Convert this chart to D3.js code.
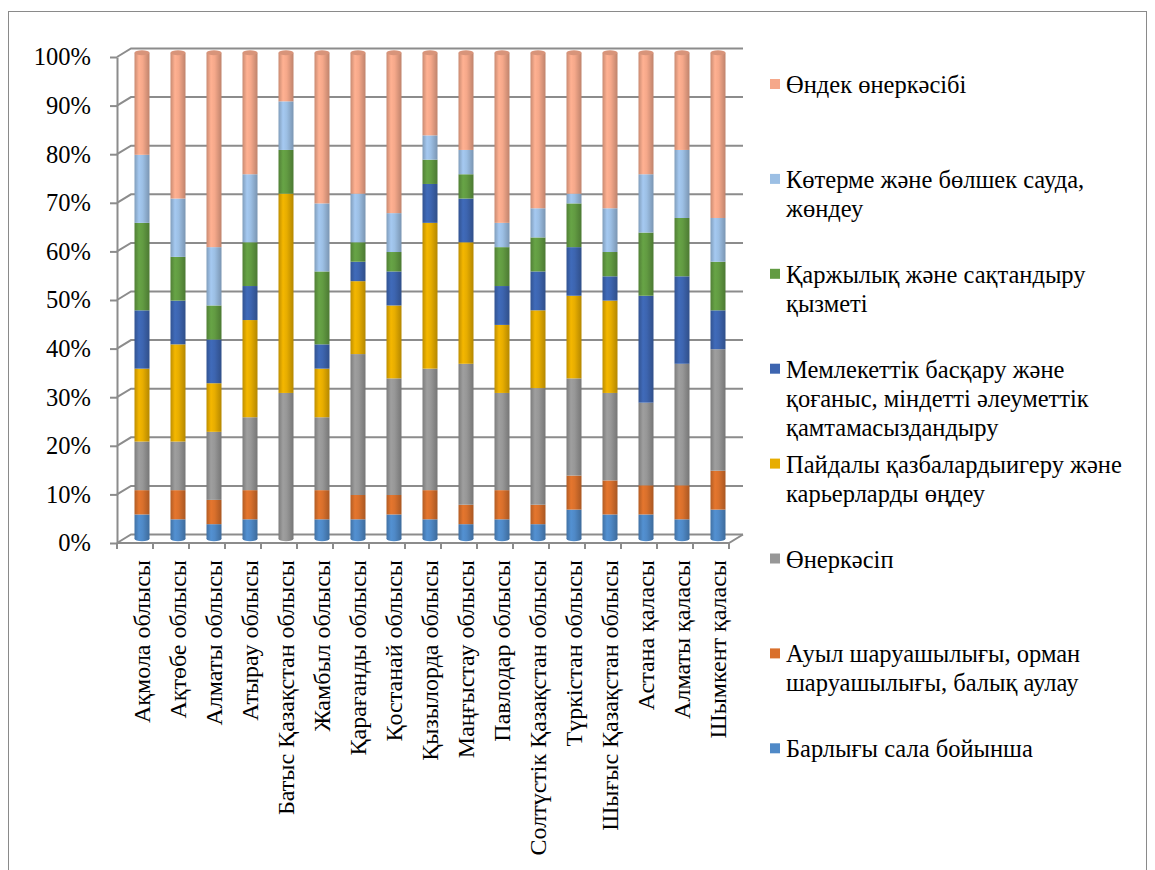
<!DOCTYPE html>
<html>
<head>
<meta charset="utf-8">
<title>Салалар бойынша үлес</title>
<script src="https://cdnjs.cloudflare.com/ajax/libs/d3/7.8.5/d3.min.js"></script>
<style>
  body { margin: 0; background: #fff; }
  svg text { font-family: "Liberation Serif", "Times New Roman", serif !important; fill: #000; }
</style>
</head>
<body>
<script>
// regions along the x axis
var regions = [
  "Ақмола облысы", "Ақтөбе облысы", "Алматы облысы", "Атырау облысы",
  "Батыс Қазақстан облысы", "Жамбыл облысы", "Қарағанды облысы", "Қостанай облысы",
  "Қызылорда облысы", "Маңғыстау облысы", "Павлодар облысы", "Солтүстік Қазақстан облысы",
  "Түркістан облысы", "Шығыс Қазақстан облысы", "Астана қаласы", "Алматы қаласы", "Шымкент қаласы"
];

// series names, bottom of the stack first
var sectors = [
  "Барлығы сала бойынша",
  "Ауыл шаруашылығы, орман шаруашылығы, балық аулау",
  "Өнеркәсіп",
  "Пайдалы қазбалардыигеру және карьерларды өңдеу",
  "Мемлекеттік басқару және қоғаныс, міндетті әлеуметтік қамтамасыздандыру",
  "Қаржылық және сақтандыру қызметі",
  "Көтерме және бөлшек сауда, жөндеу",
  "Өндек өнеркәсібі"
];

// shares, % (one value per region)
var total         = [5, 4, 3, 4, 0, 4, 4, 5, 4, 3, 4, 3, 6, 5, 5, 4, 6];
var agriculture   = [5, 6, 5, 6, 0, 6, 5, 4, 6, 4, 6, 4, 7, 7, 6, 7, 8];
var industry      = [10, 10, 14, 15, 30, 15, 29, 24, 25, 29, 20, 24, 20, 18, 17, 25, 25];
var mining        = [15, 20, 10, 20, 41, 10, 15, 15, 30, 25, 14, 16, 17, 19, 0, 0, 0];
var publicAdmin   = [12, 9, 9, 7, 0, 5, 4, 7, 8, 9, 8, 8, 10, 5, 22, 18, 8];
var finance       = [18, 9, 7, 9, 9, 15, 4, 4, 5, 5, 8, 7, 9, 5, 13, 12, 10];
var trade         = [14, 12, 12, 14, 10, 14, 10, 8, 5, 5, 5, 6, 2, 9, 12, 14, 9];
var manufacturing = [21, 30, 40, 25, 10, 31, 29, 33, 17, 20, 35, 32, 29, 32, 25, 20, 34];

var seriesValues = [total, agriculture, industry, mining, publicAdmin, finance, trade, manufacturing];
var colors = ["#4f89c7", "#d9702c", "#979797", "#e7ad00", "#3d65b0", "#629b42", "#9cbfe4", "#f5a88a"];

var width = 1155, height = 870;
var depthX = 14, depthY = -8.5;
var barW = 15;
var serif = "'Liberation Serif', 'Times New Roman', serif";

var svg = d3.select("body").append("svg")
  .attr("width", width)
  .attr("height", height);

// chart frame (bottom edge falls outside the picture)
svg.append("rect")
  .attr("x", 8.5).attr("y", 11.5)
  .attr("width", 1138).attr("height", 870)
  .attr("fill", "#fff")
  .attr("stroke", "#8a8a8a");

var x = d3.scaleBand().domain(regions).range([117, 729]);
var y = d3.scaleLinear().domain([0, 1]).range([543, 57]);
var ticks = d3.range(0, 11).map(function(d) { return d / 10; });

// back wall + side wall grid lines
svg.append("g")
  .attr("fill", "none")
  .attr("stroke", "#8c8c8c")
  .attr("stroke-width", 2)
  .selectAll("path")
  .data(ticks)
  .enter()
  .append("path")
  .attr("d", function(d) {
    return "M" + x.range()[0] + "," + y(d) +
      "L" + (x.range()[0] + depthX) + "," + (y(d) + depthY) +
      "H" + (x.range()[1] + depthX);
  });

// floor front edge
svg.append("path")
  .attr("fill", "none")
  .attr("stroke", "#8c8c8c")
  .attr("stroke-width", 2)
  .attr("d", "M" + x.range()[0] + "," + y(0) + "H" + x.range()[1] +
    "L" + (x.range()[1] + depthX) + "," + (y(0) + depthY));

// ticks between categories
var edges = regions.map(function(r) { return x(r); }).concat([x.range()[1]]);
svg.append("g")
  .attr("stroke", "#8c8c8c")
  .attr("stroke-width", 2)
  .selectAll("line")
  .data(edges)
  .enter()
  .append("line")
  .attr("x1", function(d) { return d; })
  .attr("x2", function(d) { return d; })
  .attr("y1", y(0))
  .attr("y2", y(0) + 6);

// y axis
var yAxis = svg.append("g")
  .attr("transform", "translate(" + x.range()[0] + ",0)")
  .call(d3.axisLeft(y).tickValues(ticks).tickFormat(d3.format(".0%"))
    .tickSize(7).tickSizeOuter(0).tickPadding(19));
yAxis.attr("font-family", null);
yAxis.select(".domain").attr("stroke", "#8c8c8c").attr("stroke-width", 2);
yAxis.selectAll(".tick line").attr("stroke", "#8c8c8c").attr("stroke-width", 2);
yAxis.selectAll(".tick text")
  .style("font-family", serif)
  .style("font-size", "24.5px")
  .attr("fill", "#000");

// x axis labels
var xAxis = svg.append("g")
  .attr("transform", "translate(0," + y(0) + ")")
  .call(d3.axisBottom(x).tickSize(0));
xAxis.attr("font-family", null);
xAxis.select(".domain").remove();
xAxis.selectAll(".tick text")
  .style("font-family", serif)
  .style("font-size", "24px")
  .attr("fill", "#000")
  .attr("text-anchor", "end")
  .attr("transform", "rotate(-90)")
  .attr("x", -17)
  .attr("y", depthX / 2)
  .attr("dy", "0.35em");

// cylinder shading
var defs = svg.append("defs");
colors.forEach(function(c, i) {
  var base = d3.color(c);
  var g = defs.append("linearGradient")
    .attr("id", "cyl" + i)
    .attr("x1", 0).attr("x2", 1).attr("y1", 0).attr("y2", 0);
  [[0, base.darker(0.55)], [0.3, base.brighter(0.15)], [0.55, base], [1, base.darker(0.7)]]
    .forEach(function(s) {
      g.append("stop").attr("offset", s[0]).attr("stop-color", s[1].formatHex());
    });
});

var rows = regions.map(function(r, i) {
  var o = { region: r };
  sectors.forEach(function(s, j) { o[s] = seriesValues[j][i]; });
  return o;
});

var stacked = d3.stack().keys(sectors).offset(d3.stackOffsetExpand)(rows);

function cx(region) { return x(region) + x.bandwidth() / 2 + depthX / 2; }

var bars = svg.append("g");

// rounded bottoms
bars.selectAll(".bottom")
  .data(rows)
  .enter()
  .append("ellipse")
  .attr("class", "bottom")
  .attr("cx", function(d) { return cx(d.region); })
  .attr("cy", y(0) + depthY / 2)
  .attr("rx", barW / 2)
  .attr("ry", 2.5)
  .attr("fill", function(d) {
    var k = sectors.findIndex(function(s) { return d[s] > 0; });
    return "url(#cyl" + k + ")";
  });

bars.selectAll(".layer")
  .data(stacked)
  .enter()
  .append("g")
  .attr("class", "layer")
  .attr("fill", function(d, i) { return "url(#cyl" + i + ")"; })
  .selectAll("rect")
  .data(function(d) { return d; })
  .enter()
  .append("rect")
  .attr("x", function(d) { return cx(d.data.region) - barW / 2; })
  .attr("y", function(d) { return y(d[1]) + depthY / 2; })
  .attr("width", barW)
  .attr("height", function(d) { return y(d[0]) - y(d[1]); });

// top caps
bars.selectAll(".cap")
  .data(rows)
  .enter()
  .append("ellipse")
  .attr("class", "cap")
  .attr("cx", function(d) { return cx(d.region); })
  .attr("cy", y(1) + depthY / 2)
  .attr("rx", barW / 2)
  .attr("ry", 2.5)
  .attr("fill", d3.color(colors[colors.length - 1]).darker(0.35).formatHex());

// legend, top entry = top of the stack
var legendX = 786;
var legend = svg.append("g");
var items = legend.selectAll("g")
  .data(sectors.map(function(s, i) { return { name: s, color: colors[i] }; }).reverse())
  .enter()
  .append("g")
  .attr("transform", function(d, i) { return "translate(0," + (93 + i * 94.9) + ")"; });

items.append("rect")
  .attr("x", legendX - 16).attr("y", -14)
  .attr("width", 10).attr("height", 10)
  .attr("fill", function(d) { return d.color; });

items.append("text")
  .attr("x", legendX)
  .style("font-family", serif)
  .style("font-size", "24.5px")
  .each(function(d) {
    var t = d3.select(this);
    var words = d.name.split(" ");
    var line = [];
    var n = 0;
    var tspan = t.append("tspan").attr("x", legendX).attr("y", 0);
    words.forEach(function(w) {
      line.push(w);
      tspan.text(line.join(" "));
      if (tspan.node().getComputedTextLength() > 345 && line.length > 1) {
        line.pop();
        tspan.text(line.join(" "));
        line = [w];
        n++;
        tspan = t.append("tspan").attr("x", legendX).attr("y", n * 29).text(w);
      }
    });
  });
</script>
</body>
</html>
